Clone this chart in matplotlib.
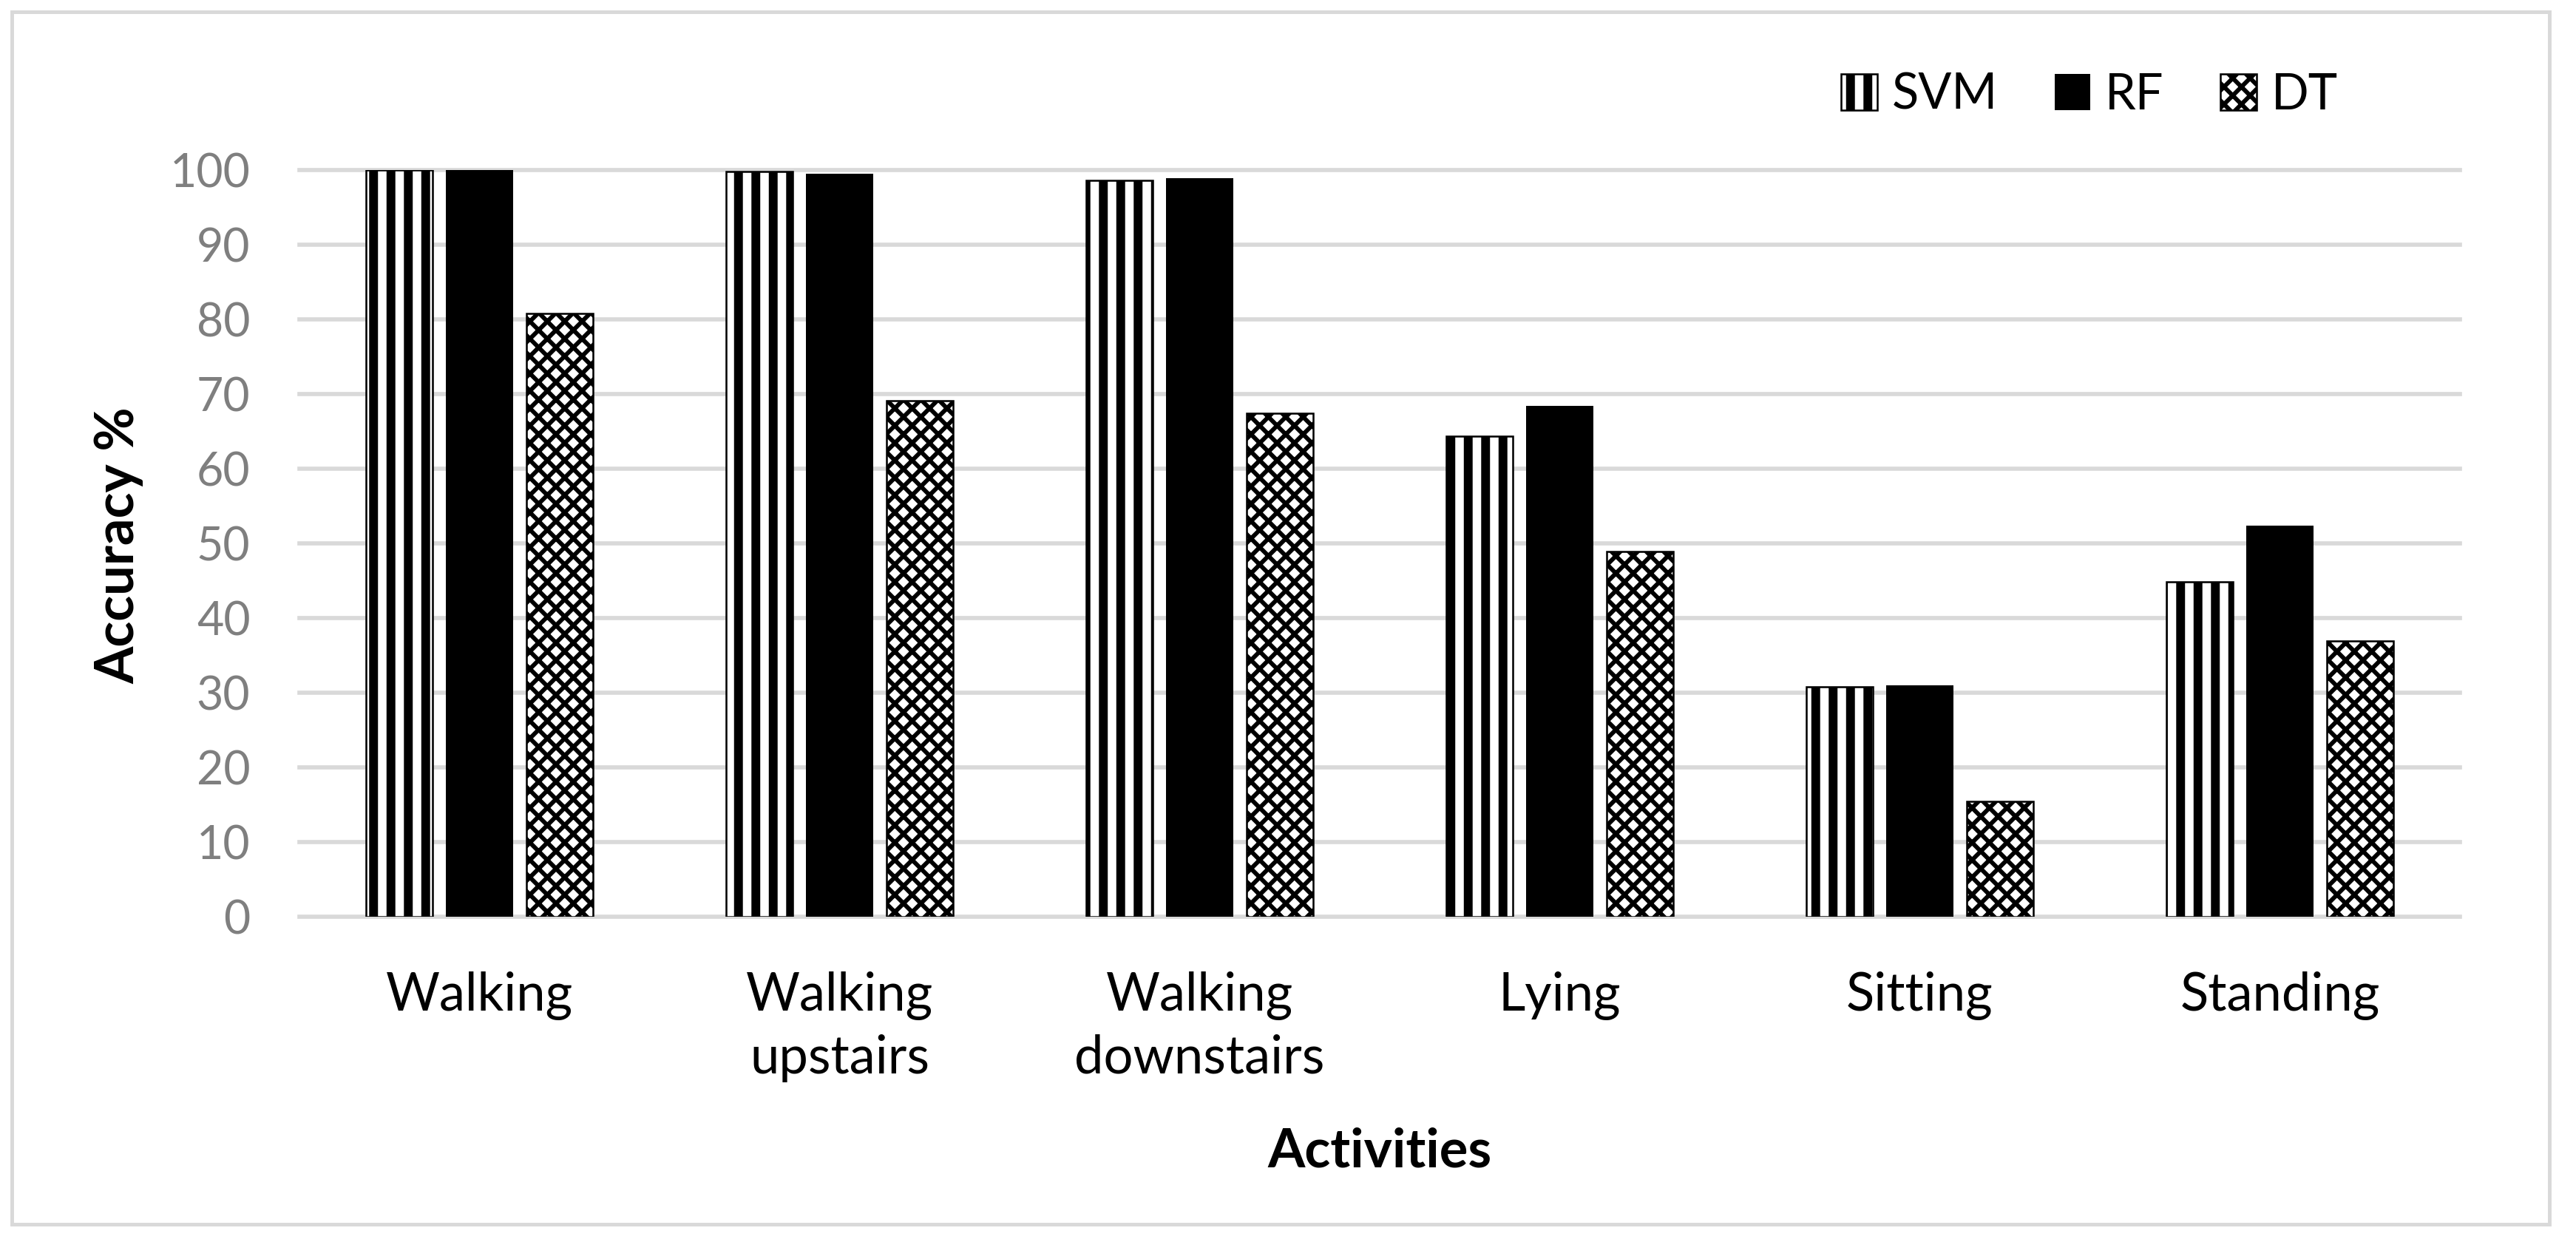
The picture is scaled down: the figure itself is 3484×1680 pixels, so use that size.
import numpy as np
import matplotlib
matplotlib.use('Agg')
import matplotlib.pyplot as plt
from matplotlib.patches import Rectangle

plt.rcParams['font.family'] = ['Lato', 'DejaVu Sans']

# Dados
categorias = ['Walking', 'Walking\nupstairs', 'Walking\ndownstairs', 'Lying', 'Sitting', 'Standing']
svm = [100.0, 99.8, 98.6, 64.4, 30.8, 44.9]
rf = [100.0, 99.5, 98.9, 68.4, 31.0, 52.4]
dt = [80.8, 69.1, 67.4, 48.9, 15.4, 36.9]
yticks = list(range(0, 101, 10))

DPI = 141
x = np.arange(len(categorias))
w = 0.185
off = 0.222

LW_SVM = 6.1   # listras largas
LW_DT = 3.0    # treliça do xadrez


def hatch_lw(patches, lw):
    for p in patches:
        if hasattr(p, 'set_hatch_linewidth'):
            p.set_hatch_linewidth(lw)
        else:
            p._hatch_linewidth = lw


fig = plt.figure(figsize=(3484 / DPI, 1680 / DPI), dpi=DPI)
ax = fig.add_axes([405 / 3484, 440 / 1680, 2922 / 3484, 1010 / 1680])

# barras
with plt.rc_context({'hatch.linewidth': LW_SVM}):
    b_svm = ax.bar(x - off, svm, w, facecolor='white', edgecolor='black', hatch='|', linewidth=1.3)
b_rf = ax.bar(x, rf, w, color='black', linewidth=0)
with plt.rc_context({'hatch.linewidth': LW_DT}):
    b_dt = ax.bar(x + off, dt, w, facecolor='white', edgecolor='black', hatch='xx', linewidth=1.3)
hatch_lw(b_svm, LW_SVM)
hatch_lw(b_dt, LW_DT)

ax.set_xlim(-0.5, len(categorias) - 0.5)
ax.set_ylim(0, 100)
ax.set_yticks(yticks)
ax.set_xticks(x)
ax.set_xticklabels(categorias)
ax.set_axisbelow(True)
ax.yaxis.grid(True, color='#D9D9D9', linewidth=2.9)
for gl in ax.get_ygridlines():
    gl.set_clip_on(False)
for s in ax.spines.values():
    s.set_visible(False)

ax.tick_params(axis='y', length=0, pad=34, labelsize=32, labelcolor='#7F7F7F')
ax.tick_params(axis='x', length=0, pad=38, labelsize=36, labelcolor='black')
for t in ax.get_xticklabels():
    t.set_linespacing(1.35)

fig.text(161 / 3484, 1 - 738 / 1680, 'Accuracy %', rotation=90, ha='center', va='center',
         fontsize=37, fontweight='bold')
fig.text(1866 / 3484, 1 - 1558 / 1680, 'Activities', ha='center', va='center',
         fontsize=37, fontweight='bold')

leg = fig.legend([b_svm, b_rf, b_dt], ['SVM', 'RF', 'DT'],
                 loc='center', bbox_to_anchor=(2826 / 3484, 1 - 129 / 1680), ncol=3, frameon=False,
                 fontsize=34, handlelength=0.73, handleheight=0.75, handletextpad=0.3,
                 columnspacing=1.15, borderaxespad=0, borderpad=0)
lp = leg.get_patches()
hatch_lw([lp[0]], LW_SVM)
hatch_lw([lp[2]], LW_DT)

# moldura externa
fig.add_artist(Rectangle((16 / 3484, 1 - 1656 / 1680), 3432 / 3484, 1640 / 1680,
                         transform=fig.transFigure, fill=False, edgecolor='#D9D9D9', linewidth=2.5))

fig.savefig('out.png', dpi=DPI, facecolor='white')
